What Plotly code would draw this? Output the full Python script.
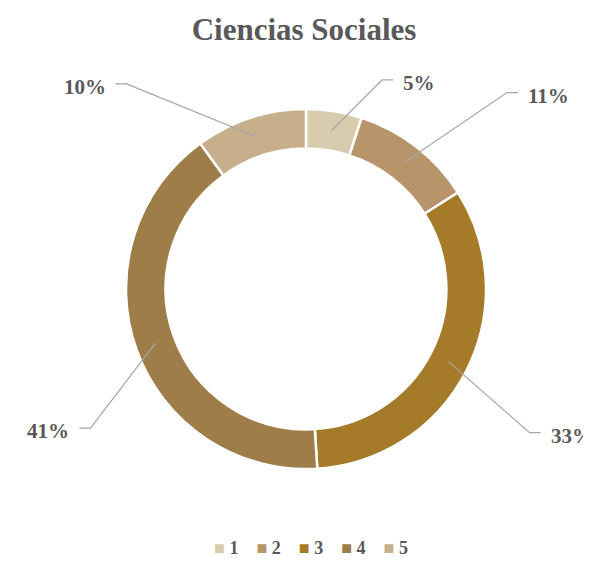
import math
import plotly.graph_objects as go

# Data
categories = ["1", "2", "3", "4", "5"]
values = [5, 11, 33, 41, 10]
label_texts = ["5%", "11%", "33%", "41%", "10%"]
colors = ["#D9CBAE", "#B8946A", "#A57B2A", "#9E7D48", "#C8AF8C"]

# Styling: leader-line elbow offsets (px) from the anchor point on the ring
elbow_offsets = [(51, -51), (103, -70), (81, 71), (-65, 85), (-130, -53)]

PAGE = 8                   # default body margin of the html page
W, H = 591 - PAGE, 562 - PAGE
cx, cy = 306 - PAGE, 289 - PAGE   # pie centre (figure px)
R_out = 180
hole = 0.78
R_anchor = 160

fig = go.Figure(go.Pie(
    labels=categories, values=values, sort=False, direction="clockwise",
    rotation=0, hole=hole, textinfo="none", hoverinfo="label+percent",
    showlegend=False,
    marker=dict(colors=colors, line=dict(color="#FFFFFF", width=2.5)),
    domain=dict(x=[(cx - R_out) / W, (cx + R_out) / W],
                y=[(H - cy - R_out) / H, (H - cy + R_out) / H]),
))

def px2paper(x, y):
    return x / W, 1 - y / H

total = sum(values)
cum = 0
shapes, annotations = [], []
for v, txt, (ox, oy) in zip(values, label_texts, elbow_offsets):
    mid = (cum + v / 2) / total * 2 * math.pi
    cum += v
    ax_ = cx + R_anchor * math.sin(mid)
    ay_ = cy - R_anchor * math.cos(mid)
    ex, ey = ax_ + ox, ay_ + oy
    side = 1 if ox > 0 else -1
    hx = ex + side * 11
    p0 = px2paper(ax_, ay_)
    p1 = px2paper(ex, ey)
    p2 = px2paper(hx, ey)
    shapes.append(dict(type="path", xref="paper", yref="paper",
                       path=f"M {p0[0]},{p0[1]} L {p1[0]},{p1[1]} L {p2[0]},{p2[1]}",
                       line=dict(color="#A6A6A6", width=1.2)))
    tx, ty = px2paper(hx + side * 8, ey + 3)
    annotations.append(dict(x=tx, y=ty, xref="paper", yref="paper", text=f"<b>{txt}</b>",
                            showarrow=False, xanchor="left" if side > 0 else "right",
                            yanchor="middle",
                            font=dict(family="Liberation Serif", size=21, color="#595959")))

# Compact legend row
legend_parts = [f"<span style='color:{c}'>■</span> <b>{cat}</b>" for c, cat in zip(colors, categories)]
lx, ly = px2paper(311 - PAGE, 548 - PAGE)
annotations.append(dict(x=lx, y=ly, xref="paper", yref="paper",
                        text="    ".join(legend_parts), showarrow=False,
                        xanchor="center", yanchor="middle",
                        font=dict(family="Liberation Serif", size=18, color="#595959")))

tx, ty = px2paper(304 - PAGE, 29 - PAGE)
fig.update_layout(
    width=W, height=H,
    margin=dict(l=0, r=0, t=0, b=0),
    paper_bgcolor="white", plot_bgcolor="white",
    title=dict(text="<b>Ciencias Sociales</b>", x=tx, xanchor="center",
               y=ty, yanchor="middle",
               font=dict(family="Liberation Serif", size=31, color="#595959")),
    shapes=shapes, annotations=annotations,
)

fig.write_html("out.html")
